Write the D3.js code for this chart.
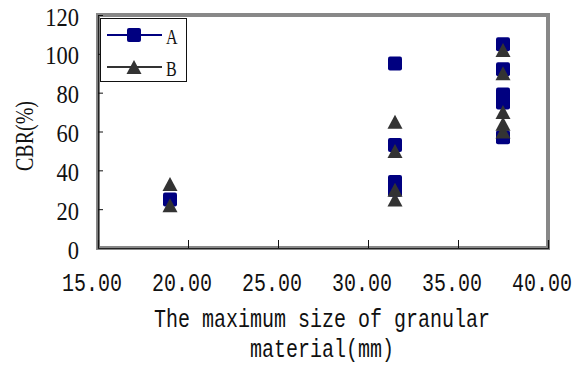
<!DOCTYPE html>
<html>
<head>
<meta charset="utf-8">
<script src="https://cdn.jsdelivr.net/npm/d3@7"></script>
<style>
html,body{margin:0;padding:0;background:#fff;}
svg{display:block;}
</style>
</head>
<body>
<svg id="chart" width="583" height="365"></svg>
<script>
// ---- data ----
const seriesNames = ["A", "B"];
const seriesAX = [19, 31.5, 31.5, 31.5, 31.5, 37.5, 37.5, 37.5, 37.5, 37.5];
const seriesAY = [25, 95, 53, 34, 30, 105, 92, 79, 75, 57];
const seriesBX = [19, 19, 31.5, 31.5, 31.5, 31.5, 37.5, 37.5, 37.5, 37.5, 37.5];
const seriesBY = [33, 22, 65, 50, 30, 25, 102, 90, 70, 64, 60];
const xTicks = [15, 20, 25, 30, 35, 40];
const yTicks = [0, 20, 40, 60, 80, 100, 120];
const xTitleLines = ["The maximum size of granular", "material(mm)"];
const yTitle = "CBR(%)";

// ---- layout ----
const svg = d3.select("#chart");
const L = 98, R = 548, T = 15, B = 248;
const x = d3.scaleLinear().domain([15, 40]).range([L, R]);
const y = d3.scaleLinear().domain([0, 120]).range([B, T]);
const navy = "#000080", dark = "#333333";

// plot frame
svg.append("rect").attr("x", L).attr("y", T).attr("width", R - L).attr("height", B - T)
  .attr("fill", "#fff").attr("stroke", "#888").attr("stroke-width", 4);

// axes (inside ticks)
const yAxis = d3.axisRight(y).tickValues(yTicks).tickSize(5).tickFormat("");
const gy = svg.append("g").attr("transform", `translate(${L},0)`).call(yAxis);
gy.select(".domain").attr("stroke", "#222").attr("stroke-width", 1.2);
gy.selectAll(".tick line").attr("stroke", "#111");

const xAxis = d3.axisTop(x).tickValues(xTicks).tickSize(8).tickFormat("");
const gx = svg.append("g").attr("transform", `translate(0,${B})`).call(xAxis);
gx.select(".domain").attr("stroke", "#222").attr("stroke-width", 1.2);
gx.selectAll(".tick line").attr("stroke", "#111");

// y tick labels
svg.append("g").selectAll("text").data(yTicks).join("text")
  .attr("transform", d => `translate(79,${y(d) + 10.5}) scale(1,1.1)`)
  .attr("text-anchor", "end")
  .attr("font-family", "'Liberation Serif', serif")
  .attr("font-size", 22.5).attr("fill", "#111")
  .text(d => d);

// x tick labels
svg.append("g").selectAll("text").data(xTicks).join("text")
  .attr("transform", d => `translate(${x(d) - 6},291) scale(1,1.25)`)
  .attr("text-anchor", "middle")
  .attr("font-family", "'Liberation Mono', monospace")
  .attr("font-size", 20).attr("fill", "#111")
  .text(d => d.toFixed(2));

// x title
svg.append("g").selectAll("text").data(xTitleLines).join("text")
  .attr("transform", (d, i) => `translate(322,${327 + i * 30}) scale(1,1.25)`)
  .attr("text-anchor", "middle")
  .attr("font-family", "'Liberation Mono', monospace")
  .attr("font-size", 20).attr("fill", "#111")
  .text(d => d);

// y title
svg.append("text")
  .attr("transform", "translate(33,136) rotate(-90) scale(1,1.25)")
  .attr("text-anchor", "middle")
  .attr("font-family", "'Liberation Serif', serif")
  .attr("font-size", 20).attr("fill", "#111")
  .text(yTitle);

// markers
const sq = 14;
const triPath = "M0,-7L7.5,7L-7.5,7Z";
const dataA = seriesAX.map((v, i) => [v, seriesAY[i]]);
const dataB = seriesBX.map((v, i) => [v, seriesBY[i]]);

svg.append("g").selectAll("rect").data(dataA).join("rect")
  .attr("x", d => x(d[0]) - sq / 2).attr("y", d => y(d[1]) - sq / 2)
  .attr("width", sq).attr("height", sq).attr("rx", 2)
  .attr("fill", navy);

svg.append("g").selectAll("path").data(dataB).join("path")
  .attr("transform", d => `translate(${x(d[0])},${y(d[1])})`)
  .attr("d", triPath).attr("fill", dark);

// legend
const lg = svg.append("g");
lg.append("rect").attr("x", 100.5).attr("y", 18.5).attr("width", 86).attr("height", 63)
  .attr("fill", "#fff").attr("stroke", "#111").attr("stroke-width", 1);
const legY = [35, 67];
const legColors = [navy, dark];
seriesNames.forEach((name, i) => {
  lg.append("line").attr("x1", 107).attr("x2", 162).attr("y1", legY[i]).attr("y2", legY[i])
    .attr("stroke", legColors[i]).attr("stroke-width", 2);
  if (i === 0) {
    lg.append("rect").attr("x", 134 - sq / 2).attr("y", legY[i] - sq / 2)
      .attr("width", sq).attr("height", sq).attr("rx", 2).attr("fill", navy);
  } else {
    lg.append("path").attr("transform", `translate(134,${legY[i]})`).attr("d", triPath).attr("fill", dark);
  }
  lg.append("text")
    .attr("transform", `translate(166,${legY[i] + 8.5}) scale(1,1.3)`)
    .attr("font-family", "'Liberation Serif', serif")
    .attr("font-size", 16).attr("fill", "#111")
    .text(name);
});
</script>
</body>
</html>
